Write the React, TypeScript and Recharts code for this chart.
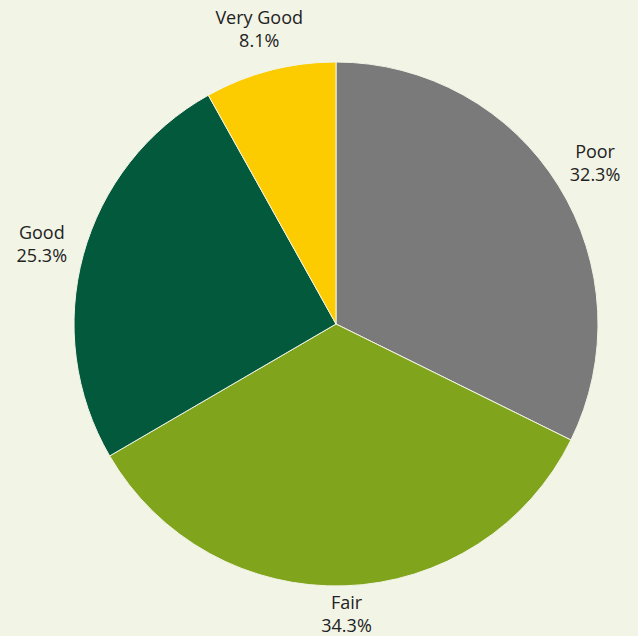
import { PieChart, Pie, Cell } from "recharts";

const categories = ["Poor", "Fair", "Good", "Very Good"];
const shares = [32.3, 34.3, 25.3, 8.1];
const colors = ["#7a7a7a", "#80a51d", "#02593b", "#fccc00"];

const W = 638;
const H = 636;
const BG = "#f2f4e6";

const data = categories.map((name, i) => ({ name, value: shares[i] }));

const RAD = Math.PI / 180;

function renderLabel(props: any) {
  const { cx, cy, midAngle, outerRadius, index } = props;
  const r = outerRadius + 43;
  const x = cx + r * Math.cos(-midAngle * RAD);
  let y = cy + r * Math.sin(-midAngle * RAD);
  y = Math.min(Math.max(y, 24), H - 22);
  return (
    <text
      x={x}
      y={y}
      textAnchor="middle"
      fill="#222"
      fontSize={18}
      fontFamily="'Open Sans', sans-serif"
    >
      <tspan x={x} dy={-5}>
        {categories[index]}
      </tspan>
      <tspan x={x} dy={23}>
        {shares[index].toFixed(1)}%
      </tspan>
    </text>
  );
}

export default function App() {
  return (
    <div style={{ position: "absolute", left: 0, top: 0, width: W, height: H, background: BG }}>
      <PieChart width={W} height={H} margin={{ top: 0, right: 0, bottom: 0, left: 0 }}>
        <Pie
          data={data}
          dataKey="value"
          nameKey="name"
          cx={336}
          cy={324}
          outerRadius={262}
          startAngle={90}
          endAngle={-270}
          stroke={BG}
          strokeWidth={1}
          label={renderLabel}
          labelLine={false}
          isAnimationActive={false}
        >
          {data.map((d, i) => (
            <Cell key={d.name} fill={colors[i]} />
          ))}
        </Pie>
      </PieChart>
    </div>
  );
}
